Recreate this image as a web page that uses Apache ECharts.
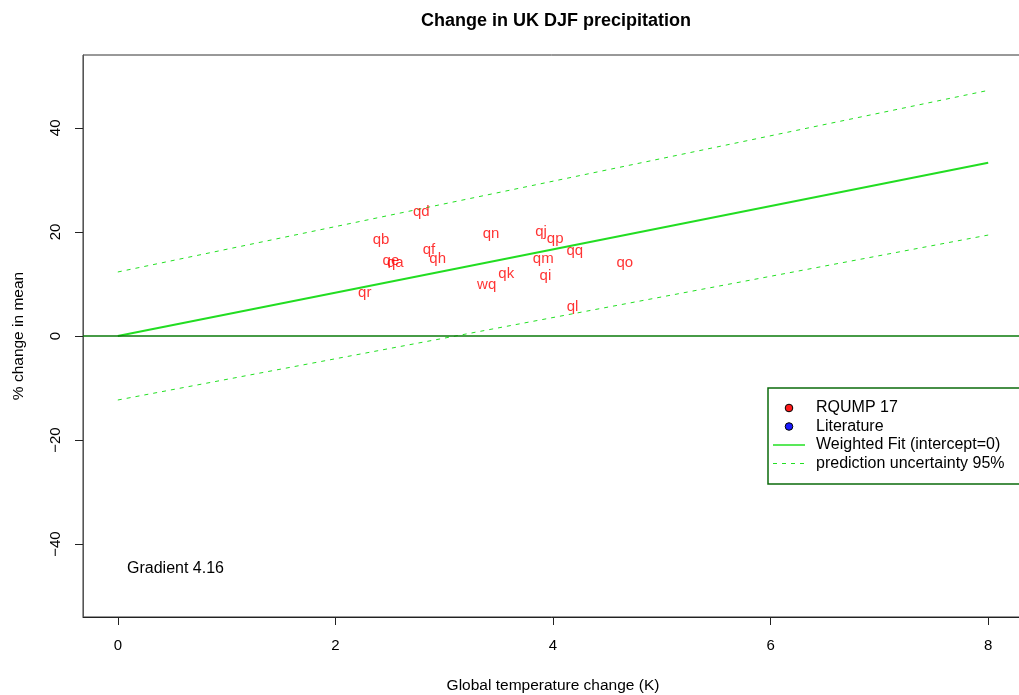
<!DOCTYPE html>
<html>
<head>
<meta charset="utf-8">
<script src="https://cdn.jsdelivr.net/npm/echarts@6/dist/echarts.min.js"></script>
<style>
  html, body { margin: 0; padding: 0; background: #fff; }
  #chart { width: 1019px; height: 695px; }
</style>
</head>
<body>
<div id="chart"></div>
<script>
// Model runs: label, global warming (K), % change in DJF precipitation
const runNames = ['qd', 'qb', 'qf', 'qh', 'qe', 'qa', 'qr', 'qn', 'wq', 'qk', 'qj', 'qp', 'qm', 'qi', 'qq', 'qo', 'ql'];
const runWarming = [2.79, 2.42, 2.86, 2.94, 2.51, 2.55, 2.27, 3.43, 3.39, 3.57, 3.89, 4.02, 3.91, 3.93, 4.20, 4.66, 4.18];
const runChange  = [23.8, 18.4, 16.5, 14.8, 14.4, 14.0, 8.3, 19.6, 9.8, 11.9, 20.0, 18.7, 14.8, 11.6, 16.3, 14.0, 5.6];

// Weighted fit through the origin
const gradient = 4.16;
const fitX = [0, 8];

// 95% prediction band end points
const bandX = [0, 8];
const bandUpper = [12.3, 47.2];
const bandLower = [-12.3, 19.4];

const xTicks = [0, 2, 4, 6, 8];
const yTicks = [-40, -20, 0, 20, 40];

const FONT = '"Liberation Sans", Arial, Helvetica, sans-serif';

const chart = echarts.init(document.getElementById('chart'), null, { renderer: 'canvas' });

const runData = runNames.map((n, i) => ({ name: n, value: [runWarming[i], runChange[i]] }));
const fitData = fitX.map(x => [x, x * gradient]);
const upperData = bandX.map((x, i) => [x, bandUpper[i]]);
const lowerData = bandX.map((x, i) => [x, bandLower[i]]);

// Legend drawn as a framed block in the lower right of the plot
const legendLeft = 768, legendTop = 388;
const legendRows = [
  { text: 'RQUMP 17', kind: 'dot', color: '#ff1a1a' },
  { text: 'Literature', kind: 'dot', color: '#1a1aff' },
  { text: 'Weighted Fit (intercept=0)', kind: 'line' },
  { text: 'prediction uncertainty 95%', kind: 'dash' }
];
const legendGraphics = [{
  type: 'rect',
  shape: { x: legendLeft, y: legendTop, width: 252, height: 96 },
  style: { fill: '#fff', stroke: '#0b6b0b', lineWidth: 1.5 },
  z: 100
}];
legendRows.forEach((r, i) => {
  const cy = legendTop + 20 + i * 18.5;
  if (r.kind === 'dot') {
    legendGraphics.push({
      type: 'circle', shape: { cx: legendLeft + 21, cy: cy, r: 3.8 },
      style: { fill: r.color, stroke: '#000', lineWidth: 1 }, z: 101
    });
  } else {
    legendGraphics.push({
      type: 'line', shape: { x1: legendLeft + 5, y1: cy, x2: legendLeft + 37, y2: cy },
      style: { stroke: '#22e022', lineWidth: r.kind === 'line' ? 1.5 : 1, lineDash: r.kind === 'dash' ? [4, 5] : null },
      z: 101
    });
  }
  legendGraphics.push({
    type: 'text', x: legendLeft + 48, y: cy,
    style: { text: r.text, font: '16px ' + FONT, fill: '#000', verticalAlign: 'middle', align: 'left' },
    z: 101
  });
});

const minusSign = v => String(v).replace('-', '\u2212');

const option = {
  animation: false,
  backgroundColor: '#fff',
  title: {
    text: 'Change in UK DJF precipitation',
    left: 551, top: 7, textAlign: 'center',
    textStyle: { fontFamily: FONT, fontSize: 18, fontWeight: 'bold', color: '#000' }
  },
  grid: {
    left: 83, top: 55, width: 940, height: 562,
    outerBoundsMode: 'none', containLabel: false,
    show: true, borderColor: '#333', borderWidth: 1, backgroundColor: 'transparent'
  },
  xAxis: {
    type: 'value', min: -0.32, max: 8.32,
    name: 'Global temperature change (K)', nameLocation: 'middle', nameGap: 61,
    nameTextStyle: { fontFamily: FONT, fontSize: 15.5, color: '#000' },
    axisLine: { show: true, onZero: false, lineStyle: { color: '#222' } },
    axisTick: { show: true, customValues: xTicks, length: 8, lineStyle: { color: '#222' } },
    axisLabel: { customValues: xTicks, margin: 21, fontFamily: FONT, fontSize: 15, color: '#000' },
    splitLine: { show: false }
  },
  yAxis: {
    type: 'value', min: -54, max: 54,
    name: '% change in mean', nameLocation: 'middle', nameGap: 56,
    nameTextStyle: { fontFamily: FONT, fontSize: 15.5, color: '#000' },
    axisLine: { show: true, onZero: false, lineStyle: { color: '#555' } },
    axisTick: { show: true, customValues: yTicks, length: 8, lineStyle: { color: '#222' } },
    axisLabel: { customValues: yTicks, rotate: 90, margin: 20, fontFamily: FONT, fontSize: 15, color: '#000', formatter: minusSign },
    splitLine: { show: false }
  },
  series: [
    {
      name: 'prediction uncertainty 95% upper', type: 'line', data: upperData,
      symbol: 'none', lineStyle: { color: '#22e022', width: 1, type: [4, 5] }, z: 2
    },
    {
      name: 'prediction uncertainty 95% lower', type: 'line', data: lowerData,
      symbol: 'none', lineStyle: { color: '#22e022', width: 1, type: [4, 5] }, z: 2
    },
    {
      name: 'Weighted Fit (intercept=0)', type: 'line', data: fitData,
      symbol: 'none', lineStyle: { color: '#22dd22', width: 2 }, z: 3,
      markLine: {
        silent: true, symbol: 'none', label: { show: false },
        lineStyle: { color: '#0a7a0a', width: 1.5, type: 'solid' },
        data: [{ yAxis: 0 }]
      }
    },
    {
      name: 'RQUMP 17', type: 'scatter', data: runData,
      symbolSize: 0, z: 4,
      label: {
        show: true, position: 'inside', formatter: p => p.name,
        fontFamily: FONT, fontSize: 15, color: '#ff0000'
      },
      labelLayout: { hideOverlap: false }
    }
  ],
  graphic: legendGraphics.concat([
    {
      type: 'text', left: 127, top: 561,
      style: { text: 'Gradient ' + gradient.toFixed(2), font: '16px ' + FONT, fill: '#000' }
    }
  ])
};

chart.setOption(option);
</script>
</body>
</html>
